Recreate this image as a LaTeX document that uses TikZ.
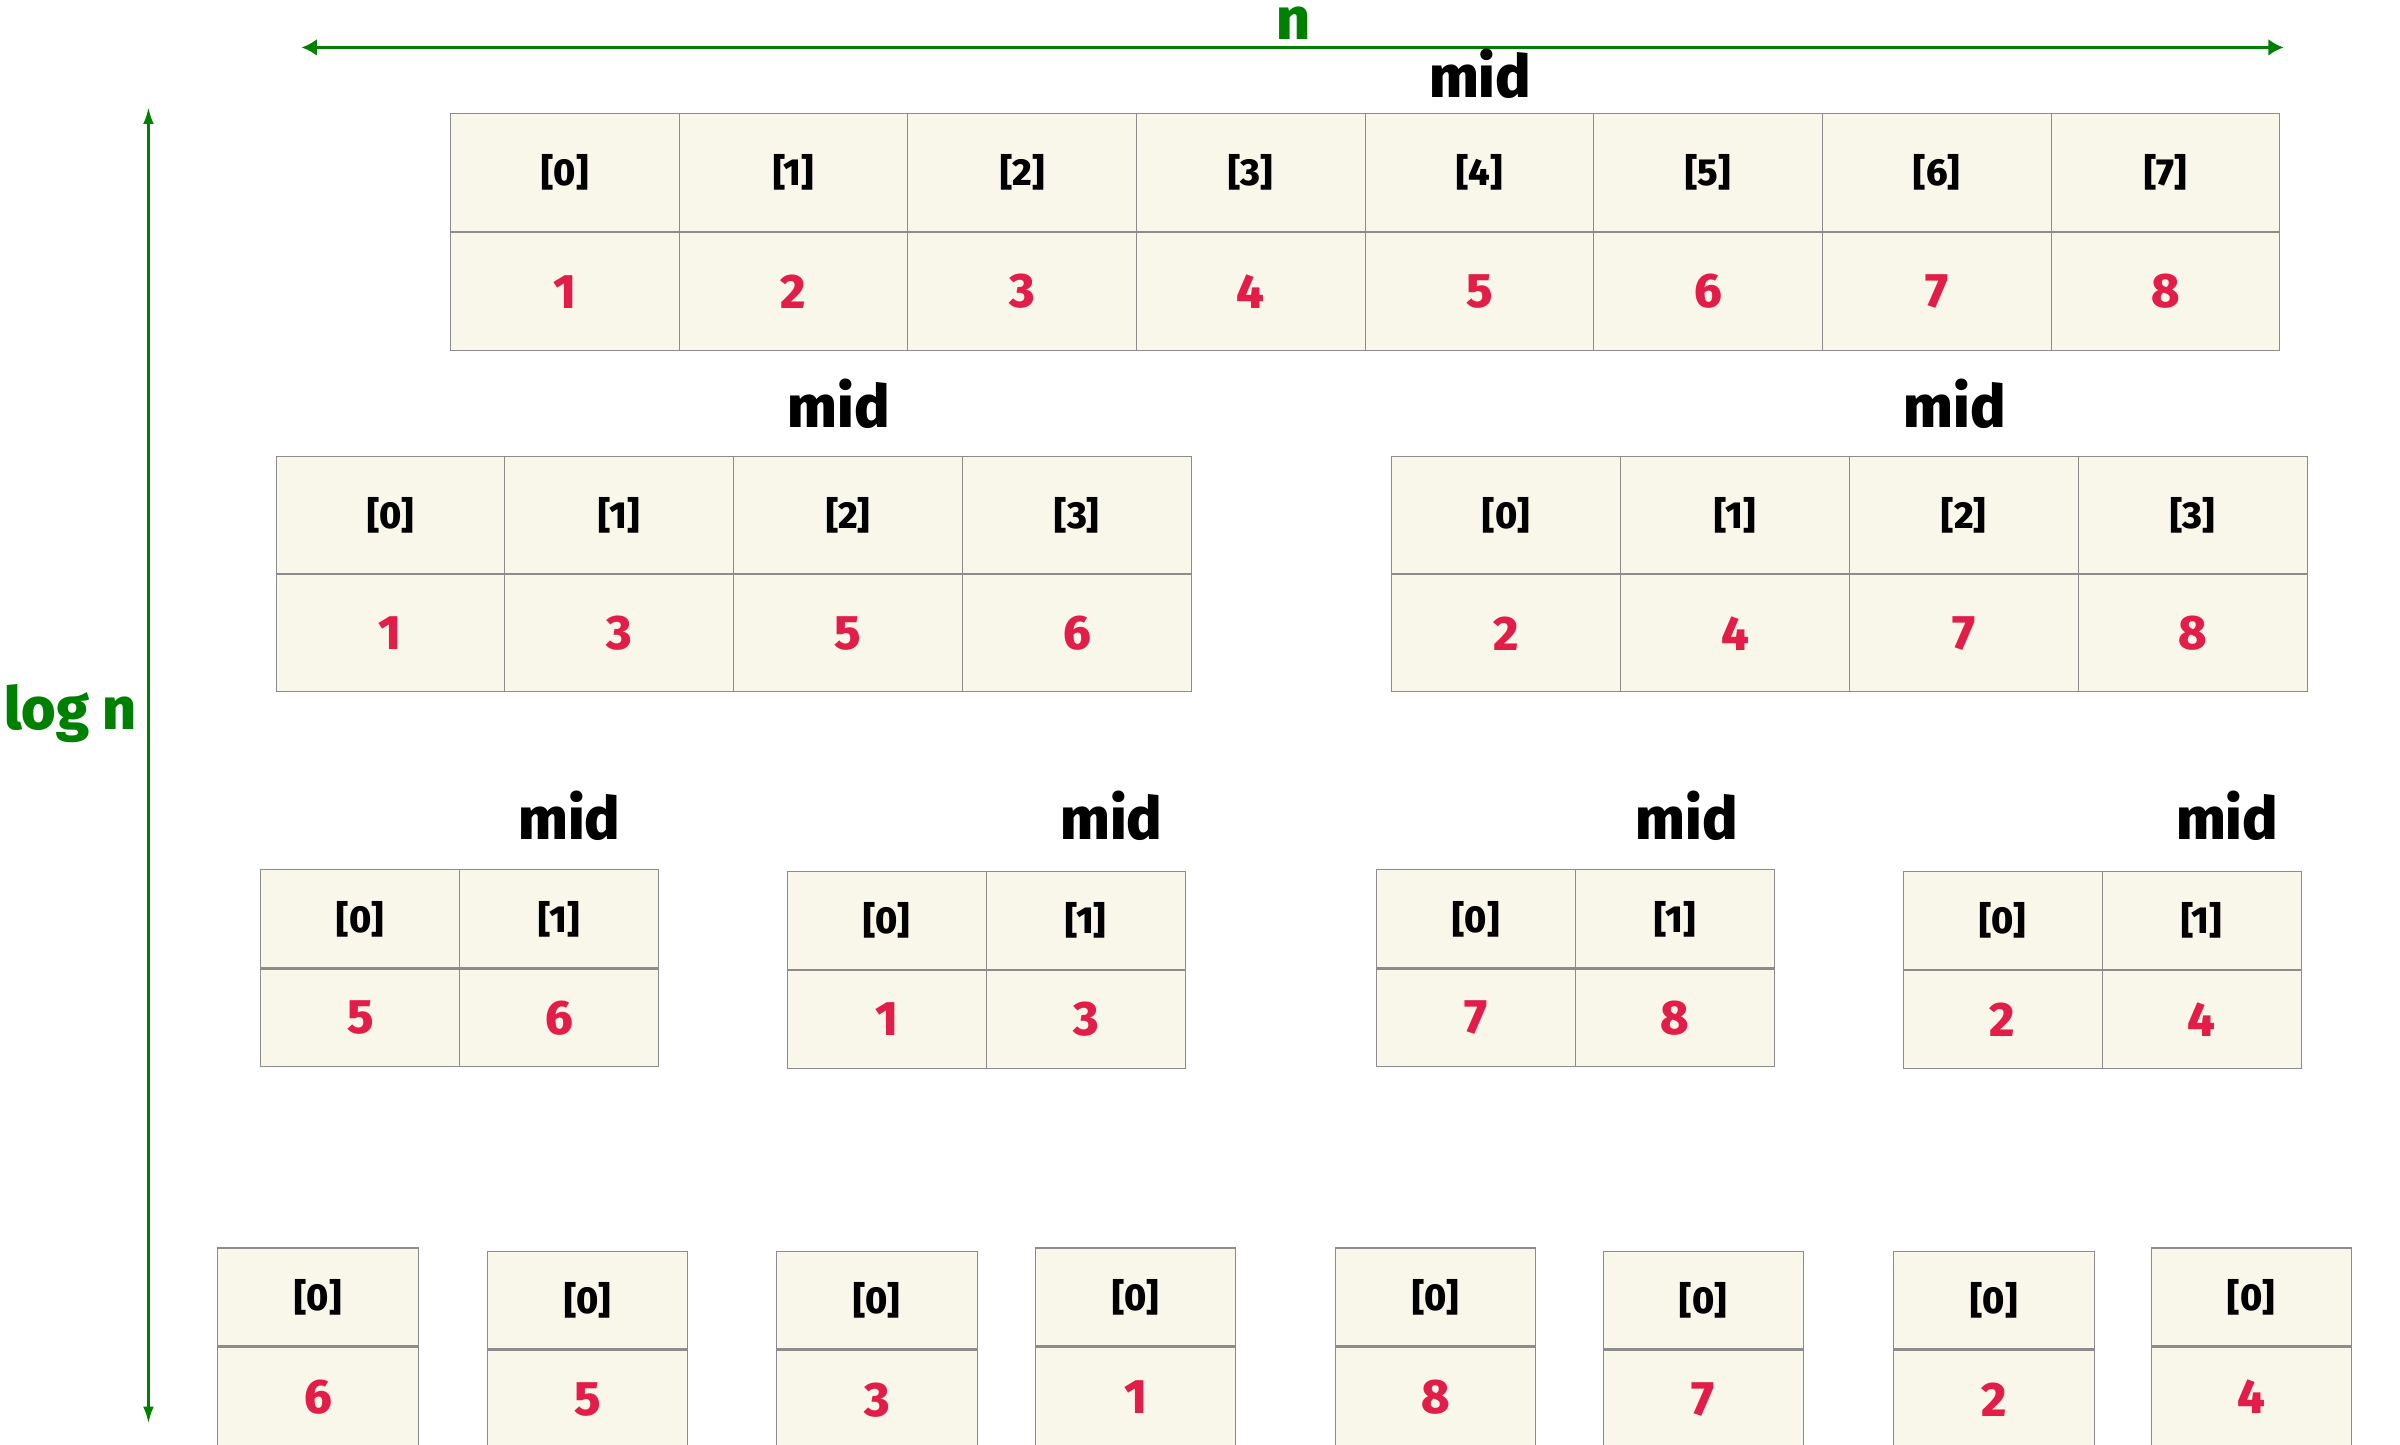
\documentclass[tikz,border=0pt]{standalone}
\usepackage{fontspec}
\setmainfont{Fira Sans}[BoldFont={Fira Sans ExtraBold}]
\usetikzlibrary{arrows.meta}
\definecolor{cella}{RGB}{249,246,234}
\definecolor{bordo}{RGB}{140,140,140}
\definecolor{rosso}{RGB}{226,30,72}
\definecolor{verde}{RGB}{0,128,0}
\tikzset{
    indice/.style={draw=bordo, fill=cella, anchor=north west, inner sep=0pt, font=\bfseries\fontsize{14}{14}\selectfont},
    valore/.style={indice, text=rosso, font=\bfseries\fontsize{18}{18}\selectfont},
    etichetta/.style={font=\bfseries\fontsize{22}{22}\selectfont},
}
\begin{document}
\begin{tikzpicture}[x=0.02cm, y=-0.02cm]
    \useasboundingbox (0,0) rectangle (1568,944);
    % assi
    \coordinate (nsx) at (197,31); \coordinate (ndx) at (1492,31);
    \coordinate (lsu) at (97,70); \coordinate (lgiu) at (97,930);
    \draw[verde, line width=1.3pt, {Latex[length=2mm,width=2.2mm]}-{Latex[length=2mm,width=2.2mm]}] (nsx) -- (ndx);
    \draw[verde, line width=1pt, {Latex[length=2.2mm,width=1.4mm]}-{Latex[length=2.2mm,width=1.4mm]}] (lsu) -- (lgiu);
    \node[etichetta, text=verde, anchor=base] (enne) at (845,26) {n};
    \node[etichetta, text=verde] (logn) at (46,466) {log n};
    % livello 1
    \foreach \i in {0,...,7} {
        \pgfmathtruncatemacro\v{\i+1}
        \node[indice, minimum width=2.988cm, minimum height=1.54cm] (h1-\i) at ({294+149.4*\i},74) {[\i]};
        \node[valore, minimum width=2.988cm, minimum height=1.54cm] (v1-\i) at (h1-\i.south west) {\v};
    }
    \node[etichetta] (mid1) at (967,48) {mid};
    % livello 2
    \foreach \x/\t/\a/\b/\c/\d in {180/a/1/3/5/6, 909/b/2/4/7/8} {
        \foreach \i/\v in {0/\a,1/\b,2/\c,3/\d} {
            \node[indice, minimum width=2.99cm, minimum height=1.53cm] (h2\t-\i) at ({\x+149.5*\i},298) {[\i]};
            \node[valore, minimum width=2.99cm, minimum height=1.53cm] (v2\t-\i) at (h2\t-\i.south west) {\v};
        }
        \node[etichetta] (mid2\t) at (\x+368,264) {mid};
    }
    % livello 3
    \foreach \x/\y/\m/\t/\a/\b in {170/568/202/a/5/6, 514/569/212/b/1/3, 899/568/203/c/7/8, 1243/569/212/d/2/4} {
        \foreach \i/\v in {0/\a,1/\b} {
            \node[indice, minimum width=2.6cm, minimum height=1.28cm] (h3\t-\i) at ({\x+130*\i},\y) {[\i]};
            \node[valore, minimum width=2.6cm, minimum height=1.28cm] (v3\t-\i) at (h3\t-\i.south west) {\v};
        }
        \node[etichetta] (mid3\t) at (\x+\m,533) {mid};
    }
    % livello 4
    \foreach \x/\y/\v [count=\k] in {142/815/6, 318/817/5, 507/817/3, 676/815/1, 872/815/8, 1047/817/7, 1237/817/2, 1405/815/4} {
        \node[indice, minimum width=2.62cm, minimum height=1.28cm] (h4-\k) at (\x,\y) {[0]};
        \node[valore, minimum width=2.62cm, minimum height=1.3cm] (v4-\k) at (h4-\k.south west) {\v};
    }
\end{tikzpicture}
\end{document}
